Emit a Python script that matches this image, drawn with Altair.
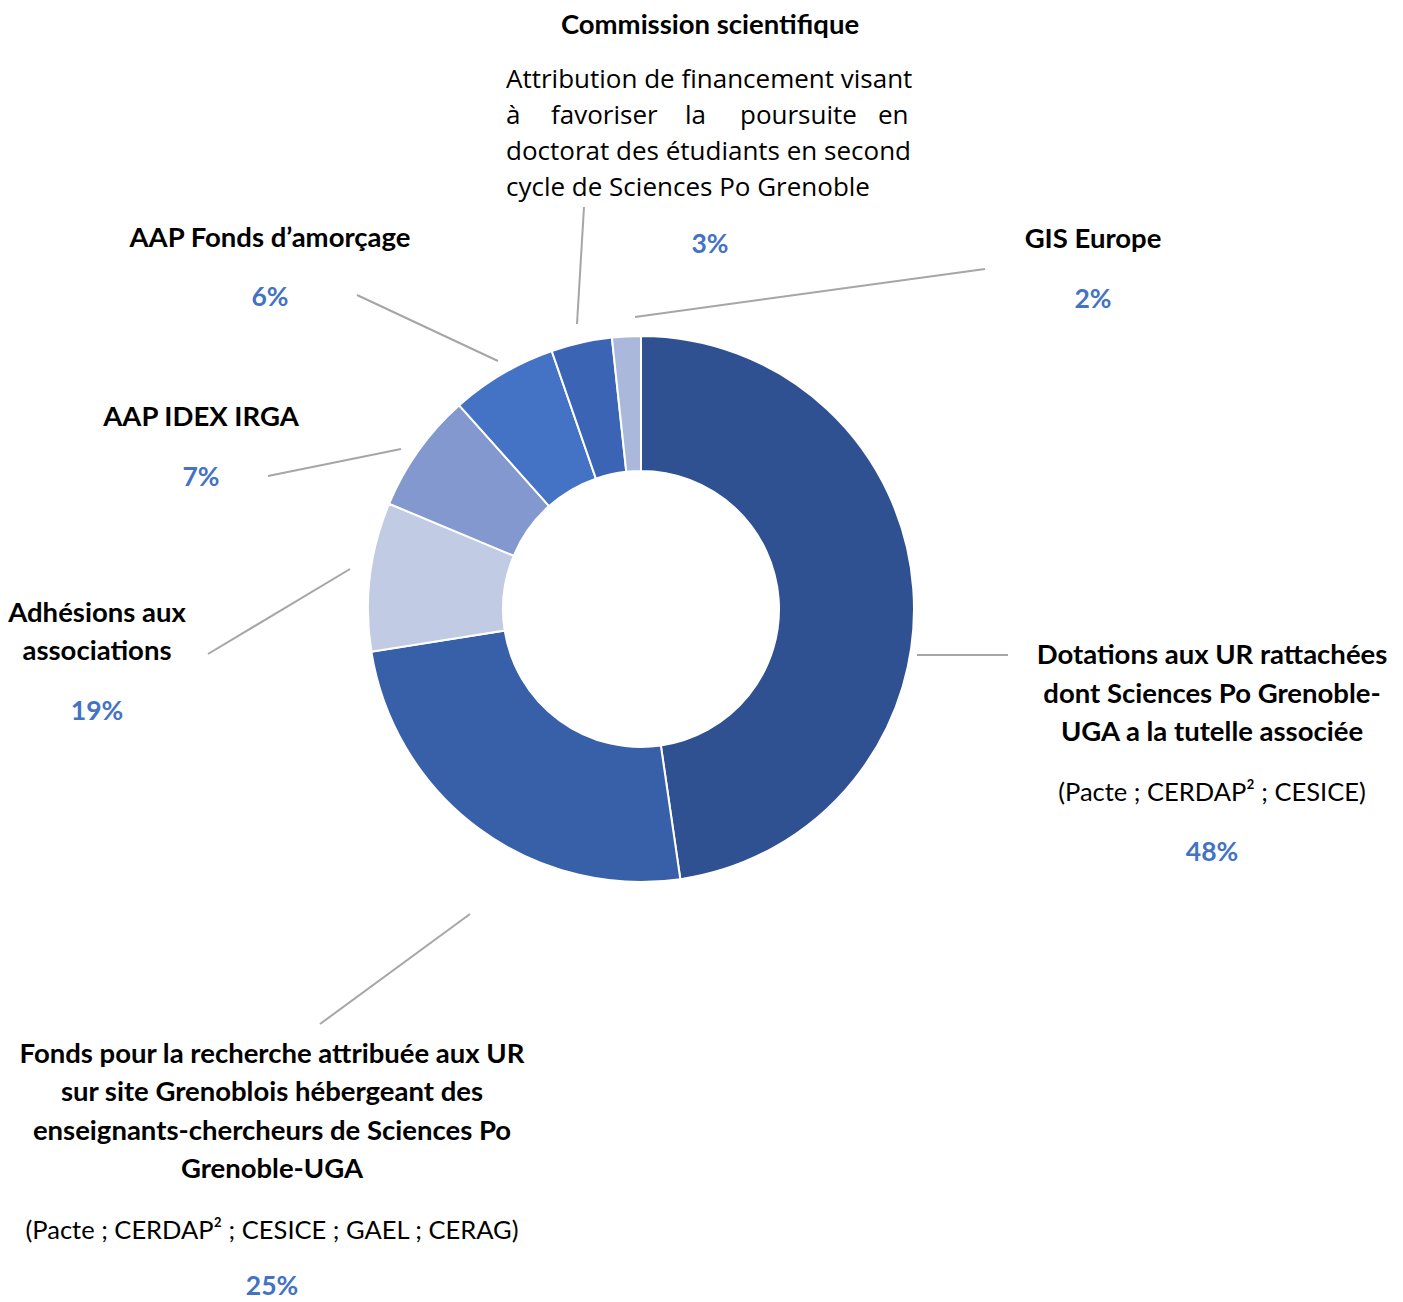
import altair as alt
import pandas as pd

# ---------------- data ----------------
categories = [
    "Dotations aux UR rattachées",
    "Fonds pour la recherche attribuée aux UR",
    "Adhésions aux associations",
    "AAP IDEX IRGA",
    "AAP Fonds d’amorçage",
    "Commission scientifique",
    "GIS Europe",
]
# slice sizes
values = [47.7, 24.8, 8.8, 7.1, 6.3, 3.6, 1.7]
pct_labels = ["48%", "25%", "19%", "7%", "6%", "3%", "2%"]
colors = ["#2F5091", "#3860A8", "#C1CBE4", "#8298CE", "#4472C4", "#3B64B4", "#AAB8DC"]

# label texts (multi-line)
title_lines = [
    ["Dotations aux UR rattachées", "dont Sciences Po Grenoble-", "UGA a la tutelle associée"],
    ["Fonds pour la recherche attribuée aux UR", "sur site Grenoblois hébergeant des",
     "enseignants-chercheurs de Sciences Po", "Grenoble-UGA"],
    ["Adhésions aux", "associations"],
    ["AAP IDEX IRGA"],
    ["AAP Fonds d’amorçage"],
    ["Commission scientifique"],
    ["GIS Europe"],
]
sub_lines = [
    "(Pacte ; CERDAP² ; CESICE)",
    "(Pacte ; CERDAP² ; CESICE ; GAEL ; CERAG)",
    None, None, None, None, None,
]
desc_lines = [
    "Attribution de financement visant",
    "à favoriser la poursuite en",
    "doctorat des étudiants en second",
    "cycle de Sciences Po Grenoble",
]

# ---------------- layout (pixel positions in the plot area) ----------------
W, H = 1387, 1294
CX, CY = 633, 601
R_OUT, R_IN = 273, 138
lab_x = [1204, 264, 89, 193, 262, 702, 1085]
lab_y0 = [648, 1047, 606, 410, 231, 18, 232]
lab_dy = [38.5, 38.3, 38, 38, 38, 38, 38]
sub_y = [785, 1223, None, None, None, None, None]
pct_y = [845, 1279, 704, 470, 290, 237, 292]
desc_x0 = 498
desc_y0 = 72
desc_dy = 36
line2_word_x = [498, 543, 677, 732, 870]

leaders = [  # x, y, x2, y2
    (909, 647, 1000, 647),
    (462, 906, 312, 1016),
    (342, 561, 200, 646),
    (393, 441, 260, 468),
    (490, 353, 349, 287),
    (569, 316, 576, 199),
    (627, 309, 977, 261),
]

# ---------------- tables ----------------
pie_df = pd.DataFrame({"cat": categories, "value": values, "idx": list(range(len(values)))})

bold_rows, reg_rows, pct_rows = [], [], []
for i in range(len(categories)):
    for j, t in enumerate(title_lines[i]):
        bold_rows.append({"text": t, "x": lab_x[i], "y": lab_y0[i] + j * lab_dy[i]})
    if sub_lines[i]:
        reg_rows.append({"text": sub_lines[i], "x": lab_x[i], "y": sub_y[i]})
    pct_rows.append({"text": pct_labels[i], "x": lab_x[i], "y": pct_y[i]})

desc_rows = []
for j, t in enumerate(desc_lines):
    if j == 1:
        for w, wx in zip(t.split(" "), line2_word_x):
            desc_rows.append({"text": w, "x": wx, "y": desc_y0 + j * desc_dy})
    else:
        desc_rows.append({"text": t, "x": desc_x0, "y": desc_y0 + j * desc_dy})

lead_df = pd.DataFrame(leaders, columns=["x", "y", "x2", "y2"])

xs = alt.Scale(domain=[0, W], range=[0, W], nice=False, zero=False)
ys = alt.Scale(domain=[0, H], range=[0, H], nice=False, zero=False)

donut = alt.Chart(pie_df).mark_arc(
    outerRadius=R_OUT, innerRadius=R_IN, stroke="white", strokeWidth=2
).encode(
    theta=alt.Theta("value:Q", stack=True),
    order=alt.Order("idx:Q"),
    color=alt.Color("cat:N", scale=alt.Scale(domain=categories, range=colors), legend=None),
    x=alt.value(CX),
    y=alt.value(CY),
)

rules = alt.Chart(lead_df).mark_rule(color="#A6A6A6", strokeWidth=2).encode(
    x=alt.X("x:Q", scale=xs, axis=None),
    y=alt.Y("y:Q", scale=ys, axis=None),
    x2="x2:Q",
    y2="y2:Q",
)

def text_layer(rows, font, weight, size, color, align):
    return alt.Chart(pd.DataFrame(rows)).mark_text(
        font=font, fontWeight=weight, fontSize=size, color=color,
        align=align, baseline="middle"
    ).encode(
        x=alt.X("x:Q", scale=xs, axis=None),
        y=alt.Y("y:Q", scale=ys, axis=None),
        text="text:N",
    )

bold = text_layer(bold_rows, "Lato", "bold", 27.5, "#000000", "center")
reg = text_layer(reg_rows, "Lato", "normal", 25.5, "#000000", "center")
pct = text_layer(pct_rows, "Lato", "bold", 26.5, "#4472C4", "center")
desc = text_layer(desc_rows, "Open Sans", "normal", 26, "#000000", "left")

chart = alt.layer(donut, rules, bold, reg, pct, desc).properties(
    width=W, height=H, autosize=alt.AutoSizeParams(type="none"), padding=0
).configure_view(stroke=None)

chart.save("out.html", embed_options={"renderer": "svg", "actions": False})
